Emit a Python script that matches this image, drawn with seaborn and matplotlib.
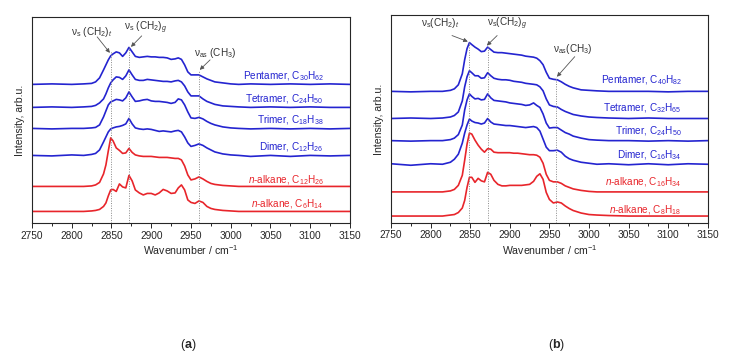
import numpy as np
import pandas as pd
import seaborn as sns
import matplotlib
matplotlib.use("Agg")
import matplotlib.pyplot as plt
from matplotlib.ticker import MultipleLocator

# wavenumber grid (cm^-1) shared by all read-off spectra
wavenumber = [2750, 2775, 2800, 2815, 2825, 2830, 2835, 2840, 2843, 2846,
              2849, 2852, 2856, 2860, 2864, 2868, 2872, 2876, 2880, 2885,
              2890, 2895, 2900, 2905, 2910, 2915, 2920, 2925, 2930, 2934,
              2938, 2942, 2946, 2950, 2955, 2960, 2965, 2970, 2975, 2980,
              2990, 3000, 3010, 3025, 3050, 3075, 3100, 3125, 3150]

# panel (a): stacked spectra, arb. units (offset included)
pentamer_a = [138.5, 139, 138.5, 139, 139.5, 141, 145, 153, 158, 163,
              167, 169, 171, 170, 166.5, 170, 175.5, 171, 166.5, 165.5,
              166, 166.5, 166, 166, 165.5, 165.5, 165, 163.5, 164, 165,
              163.5, 158, 151, 148, 148, 148, 146, 144, 142.5, 141,
              140, 139, 138.5, 139, 138.5, 139, 138.5, 139, 138.5]
tetramer_a = [115.5, 116, 115.5, 116, 116.5, 117.5, 120, 124, 129, 135,
              140, 143, 146, 145.5, 143.5, 147, 153, 148, 143.5, 142.5,
              142.5, 143.5, 143, 142.5, 142, 141.5, 141.5, 141, 142, 142.5,
              141, 137, 131, 127, 127, 127, 124, 121.5, 120, 118.5,
              117, 116.5, 116, 115.5, 116, 115.5, 116, 115.5, 115.5]
trimer_a = [94.5, 94, 94.5, 94.5, 95, 95.5, 98, 106, 112, 118,
            121, 122, 123.5, 123, 122, 125, 131, 126, 121.5, 122,
            123, 123.5, 122, 121.5, 121.5, 121, 120.5, 119.5, 120.5, 124,
            123, 118, 111, 105, 104.5, 105.5, 104, 101.5, 99.5, 98,
            96, 95, 94.5, 94, 94.5, 94, 94.5, 94, 94.5]
dimer_a = [67.5, 67, 68, 67.5, 68.5, 69.5, 73, 81, 86, 91,
           94, 95, 96, 96.5, 97.5, 99, 104.5, 99, 95, 94,
           93.5, 94, 93.5, 92.5, 91.5, 92, 91.5, 91, 92, 92.5,
           91, 86, 80, 76.5, 77.5, 79, 77.5, 75, 73, 71,
           69, 68, 67.5, 66.5, 67.5, 66.5, 67.5, 67, 67.5]
alkane_c12 = [36.5, 36.5, 36.5, 36.5, 37, 38, 40.5, 49, 58, 72,
              85, 82, 75, 72.5, 69.5, 70, 74.5, 70.5, 68, 67,
              66.5, 66.5, 66.5, 66, 65.5, 65.5, 65.5, 65, 64.5, 64.5,
              63, 57, 48, 43, 44, 46, 44, 41.5, 39.5, 38.5,
              37.5, 37, 36.5, 36.5, 36.5, 36.5, 36.5, 36.5, 36.5]
alkane_c6 = [11.5, 11.5, 11.5, 11.5, 12, 12.5, 13.5, 16.5, 20, 27,
             33, 33.5, 31.5, 39, 36, 35, 47.5, 42, 33, 30,
             28, 29.5, 29.5, 28, 30, 33.5, 32, 29.5, 30, 35,
             38, 33, 23, 20.5, 19.5, 22, 20.5, 16.5, 14.5, 13.5,
             12.5, 12, 11.5, 11.5, 11.5, 11.5, 11.5, 11.5, 11.5]

# panel (b)
pentamer_b = [130.5, 130, 130.5, 130.5, 131.5, 133, 137, 148, 162, 173,
              179, 177, 174.5, 172.5, 170, 170.5, 174.5, 172, 169.5, 169,
              169, 168.5, 168, 167.5, 167, 166.5, 165.5, 165, 164.5, 163.5,
              161, 157, 149.5, 143.5, 142.5, 142, 140, 137.5, 135.5, 134,
              132, 131.5, 131, 130.5, 130.5, 130.5, 130, 130.5, 130.5]
tetramer_b = [103.5, 104, 103.5, 104, 105, 106.5, 110, 121, 135, 145,
              151, 149, 146, 146, 143.5, 144, 149, 146, 143.5, 142.5,
              142, 142, 141.5, 140.5, 140, 139.5, 138.5, 138, 137.5, 137,
              135, 131, 123, 117, 115.5, 115, 112.5, 110.5, 109, 107.5,
              106, 105, 104.5, 104, 103.5, 104, 103.5, 103.5, 103.5]
trimer_b = [81.5, 81, 81.5, 81.5, 82.5, 84, 87.5, 97, 112, 122,
            128, 125.5, 123, 123.5, 122, 122.5, 128, 124, 121.5, 121,
            120.5, 120, 119, 118.5, 118, 117.5, 116.5, 117, 119, 116.5,
            114.5, 108, 99, 94, 94.5, 94.5, 92, 89.5, 88, 86,
            84, 82.5, 82, 81.5, 81.5, 81, 81.5, 81, 81.5]
dimer_b = [58.5, 57, 58.5, 58, 60, 63, 68, 79, 89, 97,
           103, 101, 99.5, 99, 98, 99, 103.5, 100, 98, 97.5,
           97, 96.5, 96.5, 96, 95.5, 95, 94.5, 95, 95.5, 94.5,
           91, 83, 75, 71.5, 71.5, 72, 70, 66, 63.5, 62,
           60, 59, 58, 58.5, 57.5, 58.5, 57.5, 58.5, 58]
alkane_c16 = [30.5, 30.5, 30.5, 30.5, 31.5, 33, 37, 47, 62, 78,
              89, 88, 82, 77, 73, 70, 73.5, 73, 70, 69.5,
              69.5, 69.5, 69.5, 69, 69, 68.5, 68, 67.5, 67.5, 67,
              65, 59, 48, 42, 40.5, 40.5, 39, 36.5, 35, 33.5,
              32, 31, 30.5, 30.5, 30.5, 30.5, 30.5, 30.5, 30.5]
alkane_c8 = [6.5, 6.5, 6.5, 6.5, 7.5, 8, 10, 14.5, 22, 35,
             45, 45, 40, 44, 41.5, 40.5, 50, 48, 42, 38,
             36.5, 36.5, 37, 37, 37, 37, 37.5, 38, 41, 46,
             48.5, 43, 30, 23, 19.5, 20.5, 19.5, 16.5, 14, 12,
             9.5, 8, 7.5, 7, 6.5, 6.5, 6.5, 6.5, 6.5]

labels_a = ["Pentamer, C$_{30}$H$_{62}$", "Tetramer, C$_{24}$H$_{50}$",
            "Trimer, C$_{18}$H$_{38}$", "Dimer, C$_{12}$H$_{26}$",
            "$n$-alkane, C$_{12}$H$_{26}$", "$n$-alkane, C$_{6}$H$_{14}$"]
labels_b = ["Pentamer, C$_{40}$H$_{82}$", "Tetramer, C$_{32}$H$_{65}$",
            "Trimer, C$_{24}$H$_{50}$", "Dimer, C$_{16}$H$_{34}$",
            "$n$-alkane, C$_{16}$H$_{34}$", "$n$-alkane, C$_{8}$H$_{18}$"]

BLUE = "#2424d0"
RED = "#e8252b"
colors = [BLUE, BLUE, BLUE, BLUE, RED, RED]

sns.set_style("ticks")
plt.rcParams["font.family"] = ["Liberation Sans", "DejaVu Sans"]
plt.rcParams["mathtext.fontset"] = "custom"
plt.rcParams["mathtext.rm"] = "Liberation Sans"
plt.rcParams["mathtext.it"] = "Liberation Sans:italic"
plt.rcParams["mathtext.bf"] = "Liberation Sans:bold"

fig = plt.figure(figsize=(7.35, 3.59), dpi=100)
ax_a = fig.add_axes([0.0435, 0.379, 0.4327, 0.574])
ax_b = fig.add_axes([0.532, 0.380, 0.431, 0.577])


def draw_panel(ax, series, labels, label_y, vlines, notes):
    for ys, col in zip(series, colors):
        df = pd.DataFrame({"wn": wavenumber, "I": ys})
        sns.lineplot(data=df, x="wn", y="I", color=col, lw=1.2, ax=ax)
    for lab, y, col in zip(labels, label_y, colors):
        ax.text(3117, y, lab, color=col, ha="right", va="center", fontsize=7.2)
    for x, top in vlines:
        ax.plot([x, x], [0, top], ls=(0, (1, 1.5)), color="#888888", lw=0.7)
    for txt, txt_xy, start, end in notes:
        ax.text(txt_xy[0], txt_xy[1], txt, ha="center", va="center",
                fontsize=7.2, color="#333333")
        ax.annotate("", xy=end, xytext=start,
                    arrowprops=dict(arrowstyle="-|>", color="#555555",
                                    lw=0.6, mutation_scale=6,
                                    shrinkA=0, shrinkB=0))
    ax.set_xlim(2750, 3150)
    ax.set_ylim(0, 206)
    ax.xaxis.set_major_locator(MultipleLocator(50))
    ax.xaxis.set_minor_locator(MultipleLocator(25))
    ax.tick_params(axis="x", which="major", direction="out", length=3.5,
                   labelsize=7.3, width=0.7, pad=2)
    ax.tick_params(axis="x", which="minor", direction="out", length=2,
                   width=0.7)
    ax.set_yticks([])
    for s in ax.spines.values():
        s.set_linewidth(0.8)
        s.set_visible(True)
    ax.set_xlabel("Wavenumber / cm$^{-1}$", fontsize=7.6, labelpad=2)
    ax.set_ylabel("Intensity, arb.u.", fontsize=7.6, labelpad=5)


draw_panel(ax_a,
           [pentamer_a, tetramer_a, trimer_a, dimer_a, alkane_c12, alkane_c6],
           labels_a, [147, 124, 103, 76, 43, 19],
           [(2850, 172), (2872, 176), (2960, 153)],
           [(r"ν$_\mathrm{s}$ (CH$_2$)$_{t}$", (2825, 191), (2832, 186), (2848, 170)),
            (r"ν$_\mathrm{s}$ (CH$_2$)$_{g}$", (2893, 195), (2888, 187), (2874.5, 176)),
            (r"ν$_\mathrm{as}$ (CH$_3$)", (2980, 170), (2974, 163), (2961, 153))])

draw_panel(ax_b,
           [pentamer_b, tetramer_b, trimer_b, dimer_b, alkane_c16, alkane_c8],
           labels_b, [141.3, 114, 91.3, 67.3, 40.3, 12.3],
           [(2849, 180), (2873, 176), (2958, 145)],
           [(r"ν$_\mathrm{s}$(CH$_2$)$_{t}$", (2812, 198), (2827, 186), (2847, 180)),
            (r"ν$_\mathrm{s}$(CH$_2$)$_{g}$", (2897, 198), (2884, 186), (2871, 176)),
            (r"ν$_\mathrm{as}$(CH$_3$)", (2980, 173), (2982, 165), (2959.5, 145))])

fig.text(188 / 735, 1 - 345 / 359, r"($\mathbf{a}$)", ha="center",
         va="center", fontsize=9)
fig.text(557 / 735, 1 - 345 / 359, r"($\mathbf{b}$)", ha="center",
         va="center", fontsize=9)

fig.savefig("out.png", dpi=100)
